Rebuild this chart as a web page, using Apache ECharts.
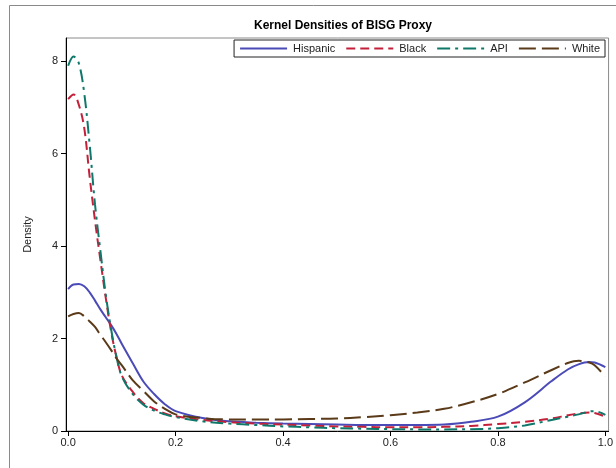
<!DOCTYPE html>
<html>
<head>
<meta charset="utf-8">
<script src="https://cdn.jsdelivr.net/npm/echarts@6/dist/echarts.min.js"></script>
<style>
  html, body { margin: 0; padding: 0; background: #fff; }
  #chart { width: 616px; height: 468px; }
</style>
</head>
<body>
<div id="chart"></div>
<script>
// Evaluation grid for the kernel density estimates (BISG proxy probability)
const xGrid = [0, 0.01, 0.02, 0.03, 0.04, 0.05, 0.06, 0.07, 0.08, 0.09, 0.10,
  0.12, 0.14, 0.16, 0.18, 0.20, 0.25, 0.30, 0.35, 0.40, 0.45, 0.50, 0.55, 0.60,
  0.65, 0.70, 0.75, 0.80, 0.85, 0.90, 0.93, 0.95, 0.97, 0.98, 1.00];

const hispanic = [3.07, 3.17, 3.18, 3.13, 3.00, 2.82, 2.63, 2.46, 2.29, 2.10, 1.88,
  1.47, 1.07, 0.80, 0.58, 0.43, 0.28, 0.21, 0.18, 0.16, 0.15, 0.14, 0.13, 0.13,
  0.13, 0.14, 0.20, 0.31, 0.62, 1.08, 1.33, 1.44, 1.49, 1.48, 1.38];

const black = [7.18, 7.28, 7.05, 6.55, 5.50, 4.55, 3.70, 2.88, 2.15, 1.60, 1.20,
  0.85, 0.60, 0.48, 0.38, 0.32, 0.24, 0.19, 0.16, 0.14, 0.12, 0.10, 0.09, 0.08,
  0.08, 0.09, 0.11, 0.15, 0.20, 0.27, 0.34, 0.38, 0.40, 0.39, 0.31];

const api = [7.90, 8.10, 7.95, 7.30, 6.20, 4.90, 3.90, 2.95, 2.20, 1.60, 1.18,
  0.80, 0.57, 0.44, 0.36, 0.30, 0.21, 0.16, 0.13, 0.10, 0.08, 0.06, 0.05, 0.04,
  0.035, 0.035, 0.04, 0.06, 0.12, 0.24, 0.31, 0.36, 0.42, 0.43, 0.35];

const white = [2.48, 2.53, 2.55, 2.48, 2.37, 2.25, 2.08, 1.92, 1.75, 1.57, 1.42,
  1.10, 0.87, 0.64, 0.48, 0.36, 0.28, 0.25, 0.25, 0.25, 0.26, 0.27, 0.30, 0.34,
  0.40, 0.48, 0.62, 0.80, 1.05, 1.32, 1.47, 1.52, 1.48, 1.42, 1.18];

const xTicks = [0, 0.2, 0.4, 0.6, 0.8, 1.0];
const yTicks = [0, 2, 4, 6, 8];

const FONT = '"Liberation Sans", Arial, sans-serif';

function pairs(ys) {
  return xGrid.map((x, i) => [x, ys[i]]);
}

function curve(name, ys, color, type) {
  return {
    name: name,
    type: 'line',
    data: pairs(ys),
    smooth: 0.35,
    symbol: 'none',
    showSymbol: false,
    animation: false,
    lineStyle: { color: color, width: 2, type: type },
    itemStyle: { color: color }
  };
}

const chart = echarts.init(document.getElementById('chart'), null, { renderer: 'canvas' });

chart.setOption({
  backgroundColor: '#fff',
  animation: false,
  textStyle: { fontFamily: FONT },
  graphic: [{
    type: 'rect',
    shape: { x: 9.5, y: 5.5, width: 700, height: 600 },
    style: { fill: 'none', stroke: '#8a8a8a', lineWidth: 1 },
    silent: true,
    z: -10
  }],
  title: {
    text: 'Kernel Densities of BISG Proxy',
    left: 338,
    textAlign: 'center',
    top: 15,
    textStyle: { fontFamily: FONT, fontSize: 12, fontWeight: 'bold', color: '#000' }
  },
  legend: {
    right: 11,
    top: 40,
    padding: [3, 5, 3, 5],
    itemGap: 10,
    itemWidth: 47,
    itemHeight: 10,
    borderColor: '#222',
    borderWidth: 1,
    backgroundColor: '#fff',
    // line-only keys: the marker dot is hidden
    itemStyle: { color: 'transparent', borderColor: 'transparent', borderWidth: 0, opacity: 0 },
    textStyle: { fontFamily: FONT, fontSize: 11, color: '#222', padding: [0, 0, 0, 1] },
    data: ['Hispanic', 'Black', 'API', 'White']
  },
  grid: {
    left: 66,
    right: 5,
    top: 38,
    bottom: 37,
    show: true,
    borderColor: '#8a8a8a',
    borderWidth: 1,
    containLabel: false
  },
  xAxis: {
    type: 'value',
    min: -0.004,
    max: 1.006,
    splitLine: { show: false },
    axisLine: { show: true, onZero: false, lineStyle: { color: '#000', width: 1 } },
    axisTick: { show: true, length: 5, lineStyle: { color: '#000' }, customValues: xTicks },
    axisLabel: {
      fontFamily: FONT, fontSize: 11, color: '#222', margin: 6,
      customValues: xTicks,
      formatter: v => v.toFixed(1)
    }
  },
  yAxis: {
    type: 'value',
    min: 0,
    max: 8.5,
    name: 'Density',
    nameLocation: 'middle',
    nameGap: 33,
    nameTextStyle: { fontFamily: FONT, fontSize: 11, color: '#222' },
    splitLine: { show: false },
    axisLine: { show: true, onZero: false, lineStyle: { color: '#000', width: 1 } },
    axisTick: { show: true, length: 5, lineStyle: { color: '#000' }, customValues: yTicks },
    axisLabel: {
      fontFamily: FONT, fontSize: 11, color: '#222', margin: 8,
      customValues: yTicks
    }
  },
  series: [
    curve('Hispanic', hispanic, '#4b4bb8', 'solid'),
    curve('Black', black, '#c4203a', [9, 5]),
    curve('API', api, '#0f786b', [13, 5, 3, 5]),
    curve('White', white, '#5a3a18', [17, 6])
  ]
});
</script>
</body>
</html>
